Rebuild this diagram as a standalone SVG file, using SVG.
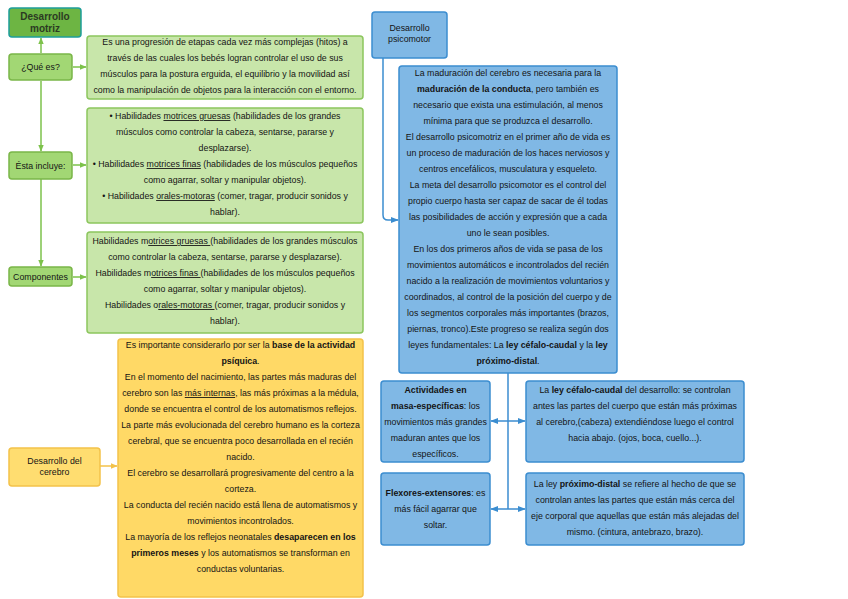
<svg xmlns="http://www.w3.org/2000/svg" width="848" height="599" viewBox="0 0 848 599">
<style>
text{font-family:"Liberation Sans",Arial,sans-serif;font-size:8.8px;fill:#141414;text-anchor:middle}
.b{font-weight:bold}
.u{text-decoration:underline}
.gbox{fill:#c8e6aa;stroke:#8cc65e;stroke-width:1.5}
.gnode{fill:#a2d774;stroke:#7ab648;stroke-width:1.5}
.ybox{fill:#ffd966;stroke:#f3c24a;stroke-width:1.5}
.bbox{fill:#80b8e5;stroke:#3b8dd0;stroke-width:1.5}
.gl{fill:none;stroke:#7dc24b;stroke-width:1.5}
.yl{fill:none;stroke:#f3c24a;stroke-width:1.5}
.bl{fill:none;stroke:#3b8dd0;stroke-width:1.5}
</style>
<defs>
<marker id="ag" viewBox="0 0 10 10" refX="9" refY="5" markerWidth="7" markerHeight="7" orient="auto-start-reverse" markerUnits="userSpaceOnUse"><path d="M0,1 L10,5 L0,9 z" fill="#7dc24b"/></marker>
<marker id="ay" viewBox="0 0 10 10" refX="9" refY="5" markerWidth="7" markerHeight="7" orient="auto-start-reverse" markerUnits="userSpaceOnUse"><path d="M0,1 L10,5 L0,9 z" fill="#f3c24a"/></marker>
<marker id="ab" viewBox="0 0 10 10" refX="9" refY="5" markerWidth="8" markerHeight="8" orient="auto-start-reverse" markerUnits="userSpaceOnUse"><path d="M0,1 L10,5 L0,9 z" fill="#3b8dd0"/></marker>
</defs>
<rect width="848" height="599" fill="#ffffff"/>

<g id="connectors">
<path class="gl" d="M41,53 L41,38" marker-end="url(#ag)"/>
<path class="gl" d="M41,81 L41,151" marker-end="url(#ag)"/>
<path class="gl" d="M41,179 L41,266" marker-end="url(#ag)"/>
<path class="gl" d="M73,67 L86,67" marker-end="url(#ag)"/>
<path class="gl" d="M73,165 L86,165" marker-end="url(#ag)"/>
<path class="gl" d="M73,277 L86,277" marker-end="url(#ag)"/>
<path class="yl" d="M100,466 L117,466" marker-end="url(#ay)"/>
<path class="bl" d="M383,58 L383,215 Q383,220 388,220 L398,220" marker-end="url(#ab)"/>
<path class="bl" d="M508,373 L508,509"/>
<path class="bl" d="M491,421 L525,421" marker-start="url(#ab)" marker-end="url(#ab)"/>
<path class="bl" d="M491,509 L525,509" marker-start="url(#ab)" marker-end="url(#ab)"/>
</g>

<g id="desarrollo-motriz">
<rect x="9" y="8" width="72" height="29" rx="3" fill="#6db543" stroke="#1e9e9a" stroke-width="1.5"/>
<text x="45" y="19.5" class="b" style="font-size:10px;fill:#2b3a22">Desarrollo</text>
<text x="45" y="31.5" class="b" style="font-size:10px;fill:#2b3a22">motriz</text>
</g>

<g id="que-es">
<rect x="9" y="54" width="63" height="26" rx="3" class="gnode"/>
<text x="40.5" y="70">¿Qué es?</text>
</g>

<g id="que-es-texto">
<rect x="87" y="36" width="276" height="63" rx="3" class="gbox"/>
<text x="225" y="45">Es una progresión de etapas cada vez más complejas (hitos) a</text>
<text x="225" y="61">través de las cuales los bebés logran controlar el uso de sus</text>
<text x="225" y="77">músculos para la postura erguida, el equilibrio y la movilidad así</text>
<text x="225" y="93">como la manipulación de objetos para la interacción con el entorno.</text>
</g>

<g id="esta-incluye">
<rect x="9" y="152" width="63" height="27" rx="3" class="gnode"/>
<text x="40.5" y="168.5">Ésta incluye:</text>
</g>

<g id="esta-incluye-texto">
<rect x="87" y="108" width="276" height="115" rx="3" class="gbox"/>
<text x="225" y="119">• Habilidades <tspan class="u">motrices gruesas</tspan> (habilidades de los grandes</text>
<text x="225" y="135">músculos como controlar la cabeza, sentarse, pararse y</text>
<text x="225" y="151">desplazarse).</text>
<text x="225" y="167">• Habilidades <tspan class="u">motrices finas</tspan> (habilidades de los músculos pequeños</text>
<text x="225" y="183">como agarrar, soltar y manipular objetos).</text>
<text x="225" y="199">• Habilidades <tspan class="u">orales-motoras</tspan> (comer, tragar, producir sonidos y</text>
<text x="225" y="215">hablar).</text>
</g>

<g id="componentes">
<rect x="9" y="267" width="63" height="19" rx="3" class="gnode"/>
<text x="40.5" y="280">Componentes</text>
</g>

<g id="componentes-texto">
<rect x="87" y="232" width="276" height="101" rx="3" class="gbox"/>
<text x="225" y="244">Habilidades m<tspan class="u">otrices gruesas </tspan>(habilidades de los grandes músculos</text>
<text x="225" y="260">como controlar la cabeza, sentarse, pararse y desplazarse).</text>
<text x="225" y="276">Habilidades m<tspan class="u">otrices finas </tspan>(habilidades de los músculos pequeños</text>
<text x="225" y="292">como agarrar, soltar y manipular objetos).</text>
<text x="225" y="308">Habilidades o<tspan class="u">rales-motoras </tspan>(comer, tragar, producir sonidos y</text>
<text x="225" y="324">hablar).</text>
</g>

<g id="desarrollo-cerebro">
<rect x="9" y="448" width="91" height="38" rx="3" fill="#ffdd70" stroke="#f3c24a" stroke-width="1.5"/>
<text x="54.5" y="464">Desarrollo del</text>
<text x="54.5" y="475">cerebro</text>
</g>

<g id="cerebro-texto">
<rect x="118" y="339" width="245" height="258" rx="3" class="ybox"/>
<text x="240.5" y="348">Es importante considerarlo por ser la <tspan class="b">base de la actividad</tspan></text>
<text x="240.5" y="364"><tspan class="b">psíquica</tspan>.</text>
<text x="240.5" y="380">En el momento del nacimiento, las partes más maduras del</text>
<text x="240.5" y="396">cerebro son las <tspan class="u">más internas</tspan>, las más próximas a la médula,</text>
<text x="240.5" y="412">donde se encuentra el control de los automatismos reflejos.</text>
<text x="240.5" y="428">La parte más evolucionada del cerebro humano es la corteza</text>
<text x="240.5" y="444">cerebral, que se encuentra poco desarrollada en el recién</text>
<text x="240.5" y="460">nacido.</text>
<text x="240.5" y="476">El cerebro se desarrollará progresivamente del centro a la</text>
<text x="240.5" y="492">corteza.</text>
<text x="240.5" y="508">La conducta del recién nacido está llena de automatismos y</text>
<text x="240.5" y="524">movimientos incontrolados.</text>
<text x="240.5" y="540">La mayoría de los reflejos neonatales <tspan class="b">desaparecen en los</tspan></text>
<text x="240.5" y="556"><tspan class="b">primeros meses</tspan> y los automatismos se transforman en</text>
<text x="240.5" y="572">conductas voluntarias.</text>
</g>

<g id="desarrollo-psicomotor">
<rect x="372" y="12" width="75" height="46" rx="3" class="bbox"/>
<text x="409.5" y="31">Desarrollo</text>
<text x="409.5" y="42">psicomotor</text>
</g>

<g id="psicomotor-texto">
<rect x="399" y="66" width="218" height="307" rx="3" class="bbox"/>
<text x="508" y="76">La maduración del cerebro es necesaria para la</text>
<text x="508" y="92"><tspan class="b">maduración de la conducta</tspan>, pero también es</text>
<text x="508" y="108">necesario que exista una estimulación, al menos</text>
<text x="508" y="124">mínima para que se produzca el desarrollo.</text>
<text x="508" y="140">El desarrollo psicomotriz en el primer año de vida es</text>
<text x="508" y="156">un proceso de maduración de los haces nerviosos y</text>
<text x="508" y="172">centros encefálicos, musculatura y esqueleto.</text>
<text x="508" y="188">La meta del desarrollo psicomotor es el control del</text>
<text x="508" y="204">propio cuerpo hasta ser capaz de sacar de él todas</text>
<text x="508" y="220">las posibilidades de acción y expresión que a cada</text>
<text x="508" y="236">uno le sean posibles.</text>
<text x="508" y="252">En los dos primeros años de vida se pasa de los</text>
<text x="508" y="268">movimientos automáticos e incontrolados del recién</text>
<text x="508" y="284">nacido a la realización de movimientos voluntarios y</text>
<text x="508" y="300">coordinados, al control de la posición del cuerpo y de</text>
<text x="508" y="316">los segmentos corporales más importantes (brazos,</text>
<text x="508" y="332">piernas, tronco).Este progreso se realiza según dos</text>
<text x="508" y="348">leyes fundamentales: La <tspan class="b">ley céfalo-caudal</tspan> y la <tspan class="b">ley</tspan></text>
<text x="508" y="364"><tspan class="b">próximo-distal</tspan>.</text>
</g>

<g id="actividades-masa">
<rect x="381" y="381" width="109" height="81" rx="3" class="bbox"/>
<text x="435.5" y="393" class="b">Actividades en</text>
<text x="435.5" y="409"><tspan class="b">masa-específicas</tspan>: los</text>
<text x="435.5" y="425">movimientos más grandes</text>
<text x="435.5" y="441">maduran antes que los</text>
<text x="435.5" y="457">específicos.</text>
</g>

<g id="ley-cefalo-caudal">
<rect x="526" y="381" width="218" height="81" rx="3" class="bbox"/>
<text x="635" y="393">La <tspan class="b">ley céfalo-caudal</tspan> del desarrollo: se controlan</text>
<text x="635" y="409">antes las partes del cuerpo que están más próximas</text>
<text x="635" y="425">al cerebro,(cabeza) extendiéndose luego el control</text>
<text x="635" y="441">hacia abajo. (ojos, boca, cuello...).</text>
</g>

<g id="flexores-extensores">
<rect x="381" y="473" width="109" height="72" rx="3" class="bbox"/>
<text x="435.5" y="496"><tspan class="b">Flexores-extensores</tspan>: es</text>
<text x="435.5" y="512">más fácil agarrar que</text>
<text x="435.5" y="528">soltar.</text>
</g>

<g id="ley-proximo-distal">
<rect x="526" y="473" width="218" height="72" rx="3" class="bbox"/>
<text x="635" y="487">La ley <tspan class="b">próximo-distal</tspan> se refiere al hecho de que se</text>
<text x="635" y="503">controlan antes las partes que están más cerca del</text>
<text x="635" y="519">eje corporal que aquellas que están más alejadas del</text>
<text x="635" y="535">mismo. (cintura, antebrazo, brazo).</text>
</g>
</svg>
